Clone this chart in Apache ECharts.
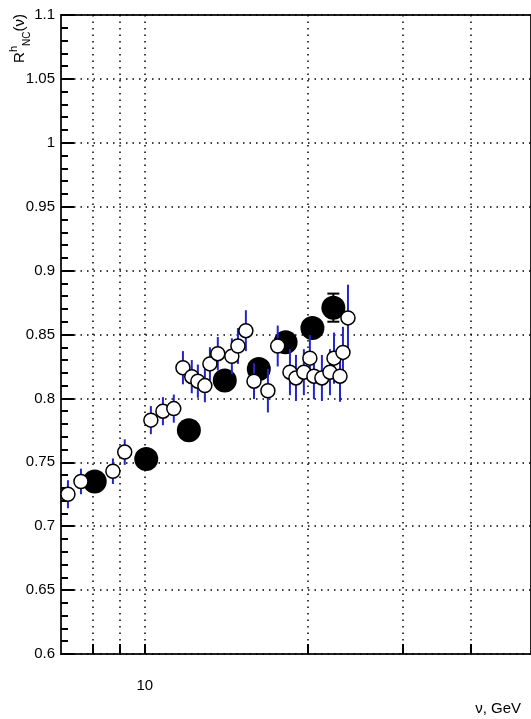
<!DOCTYPE html>
<html>
<head>
<meta charset="utf-8">
<script src="https://cdn.jsdelivr.net/npm/echarts@6/dist/echarts.min.js"></script>
<style>
  html, body { margin: 0; padding: 0; background: #fff; }
  #chart { width: 531px; height: 719px; }
</style>
</head>
<body>
<div id="chart"></div>
<script>
  // open points (blue errors)
  const openNu  = [7.21, 7.62, 8.73, 9.18, 10.26, 10.80, 11.31, 11.76, 12.21, 12.53, 12.91, 13.19, 13.64, 14.48, 14.86, 15.37, 15.91, 16.88, 17.6, 18.54, 19.02, 19.67, 20.18, 20.53, 21.24, 21.98, 22.36, 22.94, 23.23, 23.73]
  const openR   = [0.725, 0.735, 0.743, 0.758, 0.783, 0.790, 0.792, 0.824, 0.817, 0.8135, 0.810, 0.827, 0.835, 0.833, 0.841, 0.853, 0.8135, 0.806, 0.841, 0.8205, 0.816, 0.8205, 0.8315, 0.8174, 0.816, 0.8205, 0.8315, 0.8174, 0.836, 0.863]
  const openErr = [0.011, 0.010, 0.010, 0.010, 0.011, 0.011, 0.011, 0.013, 0.013, 0.013, 0.013, 0.013, 0.013, 0.014, 0.014, 0.016, 0.014, 0.017, 0.016, 0.018, 0.018, 0.018, 0.018, 0.018, 0.018, 0.018, 0.020, 0.020, 0.020, 0.026]

  // filled points
  const fullNu  = [8.08, 10.06, 12.06, 14.05, 16.24, 18.2, 20.4, 22.3]
  const fullR   = [0.735, 0.7525, 0.775, 0.814, 0.823, 0.844, 0.855, 0.871]
  const fullErr = [0.005, 0.005, 0.006, 0.006, 0.006, 0.007, 0.007, 0.011]

  const xTicks = [8, 9, 10, 20, 30, 40]
  const xLabels = [10]
  const xMin = 7, xMax = 51.7

  const lg = Math.log10
  const FONT = '"Liberation Sans", Arial, sans-serif'
  const dotted = { color: '#000', width: 1.5, type: [1.5, 5] }

  function errData (nu, r, e) {
    return nu.map((n, i) => [lg(n), r[i] - e[i], r[i] + e[i]])
  }

  function errItem (color, cap) {
    return function (params, api) {
      const x = api.value(0)
      const a = api.coord([x, api.value(1)])
      const b = api.coord([x, api.value(2)])
      const st = { stroke: color, lineWidth: 2 }
      const kids = [{ type: 'line', shape: { x1: a[0], y1: a[1], x2: b[0], y2: b[1] }, style: st }]
      if (cap) {
        kids.push({ type: 'line', shape: { x1: a[0] - cap, y1: a[1], x2: a[0] + cap, y2: a[1] }, style: st })
        kids.push({ type: 'line', shape: { x1: b[0] - cap, y1: b[1], x2: b[0] + cap, y2: b[1] }, style: st })
      }
      return { type: 'group', children: kids }
    }
  }

  const chart = echarts.init(document.getElementById('chart'))
  chart.setOption({
    animation: false,
    backgroundColor: '#fff',
    grid: {
      left: 61, right: 0, top: 15, bottom: 65,
      show: true, borderWidth: 2, borderColor: '#222', backgroundColor: 'transparent'
    },
    xAxis: {
      type: 'value',
      min: lg(xMin),
      max: lg(xMax),
      axisLine: { show: false },
      axisTick: {
        show: true, inside: true, length: 10,
        customValues: xTicks.map(lg),
        lineStyle: { color: '#000', width: 2 }
      },
      axisLabel: {
        customValues: xLabels.map(lg),
        formatter: v => String(Math.round(Math.pow(10, v))),
        margin: 24, color: '#000', fontSize: 15, fontFamily: FONT
      },
      splitLine: { show: true, lineStyle: dotted }
    },
    yAxis: {
      type: 'value',
      min: 0.6, max: 1.1, interval: 0.05,
      axisLine: { show: false },
      axisTick: { show: true, inside: true, length: 13, lineStyle: { color: '#000', width: 2 } },
      minorTick: { show: true, splitNumber: 5, length: 7, lineStyle: { color: '#000', width: 2 } },
      axisLabel: { margin: 6, color: '#000', fontSize: 15, fontFamily: FONT },
      splitLine: { show: true, lineStyle: dotted }
    },
    graphic: [
      {
        type: 'text', x: 521, y: 709,
        style: { text: 'ν, GeV', align: 'right', verticalAlign: 'middle', fill: '#000', font: '15px ' + FONT }
      },
      {
        type: 'text', x: 20, y: 14, rotation: Math.PI / 2,
        style: {
          text: '{a|R}{s|h}{b|NC}{a|(ν)}',
          align: 'right', verticalAlign: 'middle', fill: '#000',
          rich: {
            a: { fontSize: 15, fontFamily: FONT, lineHeight: 24, verticalAlign: 'middle' },
            s: { fontSize: 11, fontFamily: FONT, lineHeight: 24, verticalAlign: 'top' },
            b: { fontSize: 10, fontFamily: FONT, lineHeight: 24, verticalAlign: 'bottom' }
          }
        }
      }
    ],
    series: [
      {
        type: 'custom', z: 1, clip: true,
        renderItem: errItem('#000', 6),
        data: errData(fullNu, fullR, fullErr)
      },
      {
        type: 'scatter', z: 2,
        symbol: 'circle', symbolSize: 24,
        itemStyle: { color: '#000', opacity: 1 },
        data: fullNu.map((n, i) => [lg(n), fullR[i]])
      },
      {
        type: 'custom', z: 3, clip: true,
        renderItem: errItem('#2424c8', 0),
        data: errData(openNu, openR, openErr)
      },
      {
        type: 'scatter', z: 4,
        symbol: 'circle', symbolSize: 14,
        itemStyle: { color: '#fff', borderColor: '#000', borderWidth: 1.5, opacity: 1 },
        data: openNu.map((n, i) => [lg(n), openR[i]])
      }
    ]
  })
</script>
</body>
</html>
